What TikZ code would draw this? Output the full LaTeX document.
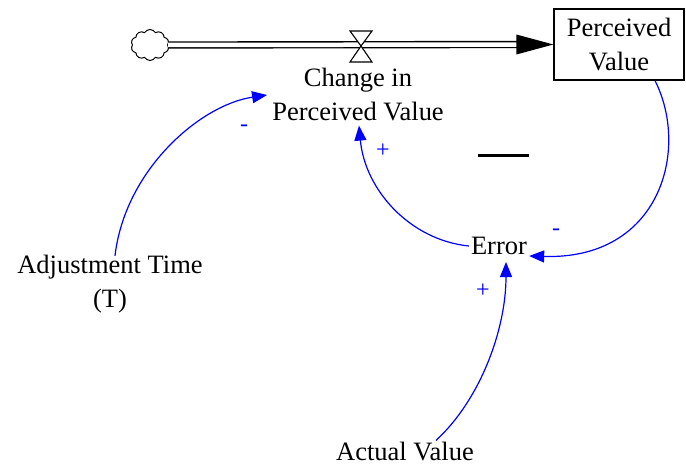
\documentclass[tikz,border=0pt]{standalone}
\usepackage{fontspec}
\setmainfont{Liberation Serif}
\usetikzlibrary{arrows.meta,shapes.symbols}
\tikzset{
  lbl/.style={font=\fontsize{26.5}{34}\selectfont, align=center, inner sep=2pt},
  conn/.style={draw={rgb,255:red,0;green,0;blue,255}, line width=1.2pt, -{Triangle[length=15pt,width=12pt]}},
  pol/.style={text={rgb,255:red,0;green,0;blue,255}, font=\fontsize{24}{24}\selectfont, inner sep=0pt},
  pipe/.style={draw=black, double=white, double distance=4.5pt, line width=1.4pt},
  valveshape/.style={draw=black, fill=white, line width=1.1pt},
}
\begin{document}
\begin{tikzpicture}[x=1pt,y=-1pt]
\useasboundingbox (0,0) rectangle (686,468);
% nodes
\node[cloud, cloud puffs=10, cloud puff arc=120, draw=black, line width=1pt, minimum width=38pt, minimum height=31pt, inner sep=0pt, aspect=1.2] (cloud) at (150,45) {};
\node[lbl, draw=black, line width=1.2pt, minimum width=130pt, minimum height=71pt] (pv) at (619,44.5) {Perceived\\Value};
\node[lbl] (chg) at (358,95) {Change in\\Perceived Value};
\node[lbl] (err) at (499,246) {Error};
\node[lbl] (act) at (405,452) {Actual Value};
\node[lbl] (adj) at (110,284) {Adjustment Time\\(T)};
% pipe
\draw[pipe] (cloud.east) -- ([xshift=-32pt]pv.west);
\fill[black] (pv.west) -- ++(-37,-10) -- ++(0,20) -- cycle;
% valve
\coordinate (vc) at (361,46);
\draw[valveshape] (vc) -- ++(-11,-15) -- ++(22,0) -- cycle;
\draw[valveshape] (vc) -- ++(-11,16) -- ++(22,0) -- cycle;
% connectors
\draw[conn] (err.west) .. controls (410,240) and (365,190) .. ([xshift=1pt,yshift=-2pt]chg.south);
\draw[conn] ([xshift=36pt]pv.south) .. controls (690,150) and (660,260) .. ([yshift=-10pt]err.east);
\draw[conn] ([xshift=31pt]act.north) .. controls (480,400) and (506,330) .. ([xshift=7pt,yshift=-5pt]err.south);
\draw[conn] ([xshift=5pt,yshift=-3pt]adj.north) .. controls (125,170) and (200,105) .. ([xshift=-3pt,yshift=0pt]chg.west);
% polarity signs
\node[pol] (p1) at (244,128) {-};
\node[pol] (p2) at (383,151) {+};
\node[pol] (p3) at (556,232) {-};
\node[pol] (p4) at (483,291) {+};
% loop polarity bar
\draw[black, line width=3pt] (478,156) -- (529,156);
\end{tikzpicture}
\end{document}
